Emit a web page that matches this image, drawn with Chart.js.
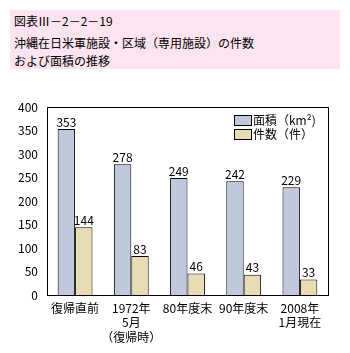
<!DOCTYPE html>
<html>
<head>
<meta charset="utf-8">
<script src="https://cdn.jsdelivr.net/npm/chart.js@4"></script>
<style>
  body { margin: 0; background: #fff; font-family: "Noto Sans CJK JP", sans-serif; }
  #wrap { position: relative; width: 350px; height: 353px; }
  #title { position: absolute; left: 10px; top: 10px; width: 330px; height: 59px; background: #fde4f0; }
  #title div { position: absolute; left: 4px; font-size: 12px; line-height: 14px; color: #000; white-space: nowrap; }
  canvas { position: absolute; left: 0; top: 0; }
</style>
</head>
<body>
<div id="wrap">
  <div id="title">
    <div style="top:4px">図表Ⅲ－2－2－19</div>
    <div style="top:26px">沖縄在日米軍施設・区域（専用施設）の件数</div>
    <div style="top:44px">および面積の推移</div>
  </div>
  <canvas id="chart" width="350" height="353"></canvas>
</div>
<script>
const kategori = [["復帰直前"], ["1972年", "5月", "（復帰時）"], ["80年度末"], ["90年度末"], ["2008年", "1月現在"]];
const menseki = [353, 278, 249, 242, 229];
const kensu = [144, 83, 46, 43, 33];
const yTicks = [0, 50, 100, 150, 200, 250, 300, 350, 400];

const warnaBiru = "#c0c8dc";
const warnaKrem = "#e8dcb4";
const fontJp = "Noto Sans CJK JP";

const labelPlugin = {
  id: "labelNilai",
  afterDatasetsDraw(chart) {
    const ctx = chart.ctx;
    ctx.save();
    ctx.font = "12px '" + fontJp + "'";
    ctx.fillStyle = "#000";
    ctx.textAlign = "center";
    ctx.textBaseline = "bottom";
    chart.data.datasets.forEach((ds, i) => {
      const meta = chart.getDatasetMeta(i);
      meta.data.forEach((bar, j) => {
        ctx.fillText(ds.data[j], bar.x, bar.y - 1);
      });
    });

    // kotak area plot
    const a = chart.chartArea;
    ctx.strokeStyle = "#000";
    ctx.lineWidth = 1;
    ctx.strokeRect(Math.round(a.left) + 0.5, Math.round(a.top) + 0.5,
      Math.round(a.right - a.left), Math.round(a.bottom - a.top));

    // legenda
    ctx.textAlign = "left";
    ctx.textBaseline = "middle";
    chart.data.datasets.forEach((ds, i) => {
      const y = 115 + i * 14;
      ctx.fillStyle = ds.backgroundColor;
      ctx.fillRect(234, y, 17, 10);
      ctx.strokeRect(234.5, y + 0.5, 17, 10);
      ctx.fillStyle = "#000";
      ctx.fillText(ds.label, 253, y + 5);
    });
    ctx.restore();
  }
};

new Chart(document.getElementById("chart"), {
  type: "bar",
  data: {
    labels: kategori,
    datasets: [
      {
        label: "面積（km²)",
        data: menseki,
        backgroundColor: warnaBiru,
        borderColor: "#000",
        borderWidth: 1,
        categoryPercentage: 0.62,
        barPercentage: 1
      },
      {
        label: "件数（件）",
        data: kensu,
        backgroundColor: warnaKrem,
        borderColor: "#000",
        borderWidth: 1,
        categoryPercentage: 0.62,
        barPercentage: 1
      }
    ]
  },
  options: {
    responsive: false,
    animation: false,
    layout: { padding: { top: 107, right: 22, bottom: 0, left: 0 } },
    plugins: { legend: { display: false }, tooltip: { enabled: false } },
    scales: {
      x: {
        grid: { display: false, drawTicks: false },
        border: { display: false },
        ticks: { color: "#000", padding: 6, autoSkip: false, maxRotation: 0, font: { family: fontJp, size: 12, lineHeight: 1.2 } },
        afterFit(scale) { scale.height = 58; }
      },
      y: {
        min: 0,
        max: 400,
        grid: { display: false, drawTicks: false },
        border: { display: false },
        afterBuildTicks(scale) { scale.ticks = yTicks.map(v => ({ value: v })); },
        ticks: { color: "#000", padding: 9, font: { family: fontJp, size: 12 } },
        afterFit(scale) { scale.width = 47; }
      }
    }
  },
  plugins: [labelPlugin]
});
</script>
</body>
</html>
